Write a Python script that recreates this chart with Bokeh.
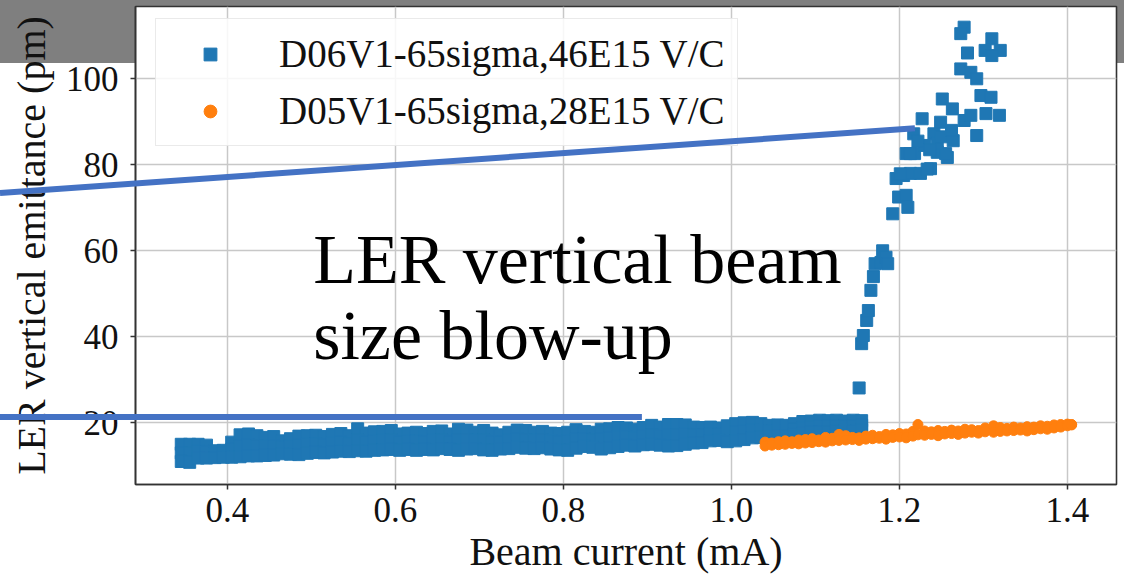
from bokeh.plotting import figure
from bokeh.models import (Range1d, FixedTicker, Label, Legend, LegendItem,
                          PrintfTickFormatter, GridBox, Div)
from bokeh.embed import file_html
from bokeh.resources import INLINE

# ---------------- data ----------------
x_ticks = [0.4, 0.6, 0.8, 1.0, 1.2, 1.4]
y_ticks = [20, 40, 60, 80, 100]

series_labels = ["D06V1-65sigma,46E15 V/C", "D05V1-65sigma,28E15 V/C"]

# D06V1: steady band (three points per current step: upper, middle, lower)
band_x = [0.345, 0.355, 0.365, 0.375, 0.385, 0.395, 0.405, 0.415, 0.425, 0.435,
          0.445, 0.455, 0.465, 0.475, 0.485, 0.495, 0.505, 0.515, 0.525, 0.535,
          0.545, 0.555, 0.565, 0.575, 0.585, 0.595, 0.605, 0.615, 0.625, 0.635,
          0.645, 0.655, 0.665, 0.675, 0.685, 0.695, 0.705, 0.715, 0.725, 0.735,
          0.745, 0.755, 0.765, 0.775, 0.785, 0.795, 0.805, 0.815, 0.825, 0.835,
          0.845, 0.855, 0.865, 0.875, 0.885, 0.895, 0.905, 0.915, 0.925, 0.935,
          0.945, 0.955, 0.965, 0.975, 0.985, 0.995, 1.005, 1.015, 1.025, 1.035,
          1.045, 1.055, 1.065, 1.075, 1.085, 1.095, 1.105, 1.115, 1.125, 1.135,
          1.145, 1.155]
band_hi = [15.0, 15.0, 15.0, 14.8, 13.5, 13.6, 15.5, 17.2, 17.4, 17.0,
           16.6, 16.8, 15.8, 16.3, 16.9, 17.0, 17.1, 16.8, 17.3, 17.5,
           17.0, 18.6, 17.6, 17.9, 18.0, 18.2, 17.4, 17.6, 17.8, 17.5,
           18.0, 18.1, 17.4, 18.5, 18.3, 17.8, 18.2, 17.6, 17.2, 17.8,
           18.3, 18.2, 17.8, 18.0, 17.6, 17.5, 17.8, 18.4, 18.0, 17.8,
           18.5, 18.6, 18.9, 18.8, 18.5, 18.9, 19.4, 19.0, 19.6, 19.6,
           19.5, 19.0, 18.9, 19.0, 18.8, 19.3, 19.8, 20.0, 20.1, 19.8,
           19.4, 19.5, 19.4, 19.8, 20.3, 20.4, 20.6, 20.5, 20.6, 20.4,
           20.6, 20.5]
band_mid = [13.0, 12.9, 13.4, 13.2, 12.8, 12.9, 13.8, 14.6, 14.9, 14.7,
            14.5, 14.6, 14.3, 14.5, 14.8, 15.0, 15.1, 14.9, 15.2, 15.5,
            15.1, 16.0, 15.5, 15.7, 15.9, 16.0, 15.5, 15.7, 15.7, 15.6,
            15.9, 16.0, 15.6, 16.1, 16.1, 15.9, 16.0, 15.6, 15.5, 15.9,
            16.3, 16.1, 15.9, 16.1, 15.8, 15.6, 15.7, 16.2, 16.3, 16.0,
            16.2, 16.4, 16.7, 16.8, 16.5, 16.9, 17.2, 16.9, 17.1, 17.2,
            17.3, 17.2, 17.1, 17.4, 17.3, 17.5, 17.8, 18.0, 18.3, 18.2,
            18.1, 18.2, 18.2, 18.5, 18.9, 19.1, 19.2, 19.2, 19.3, 19.3,
            19.3, 19.4]
band_lo = [11.0, 10.8, 11.8, 11.8, 11.9, 12.0, 12.0, 12.1, 12.3, 12.3,
           12.4, 12.5, 12.8, 12.7, 12.6, 12.9, 13.1, 13.0, 13.2, 13.4,
           13.3, 13.5, 13.4, 13.6, 13.7, 13.8, 13.6, 13.8, 13.6, 13.8,
           13.7, 14.0, 13.8, 13.6, 13.9, 14.0, 13.7, 13.6, 13.9, 14.0,
           14.3, 14.1, 14.0, 14.2, 13.9, 13.7, 13.6, 14.1, 14.5, 14.3,
           13.9, 14.2, 14.5, 14.8, 14.6, 14.9, 15.0, 14.8, 14.6, 14.7,
           15.0, 15.3, 15.4, 15.8, 15.9, 15.6, 15.8, 16.1, 16.5, 16.6,
           16.8, 16.9, 17.0, 17.3, 17.6, 17.8, 17.8, 17.9, 18.0, 18.2,
           18.0, 18.3]

# D06V1: blow-up region
blow_x = [1.152, 1.155, 1.157, 1.161, 1.163, 1.166, 1.169, 1.171, 1.178, 1.180,
          1.184, 1.186, 1.192, 1.199, 1.208, 1.210, 1.196, 1.205, 1.213, 1.225,
          1.237, 1.208, 1.218, 1.245, 1.257, 1.277, 1.273, 1.281, 1.310, 1.320,
          1.302, 1.310, 1.273, 1.285, 1.292, 1.251, 1.263, 1.277, 1.285, 1.297,
          1.309, 1.303, 1.319, 1.227, 1.249, 1.217, 1.241, 1.264, 1.292, 1.255,
          1.213, 1.201, 1.233, 1.230, 1.245, 1.222, 1.236, 1.250, 1.262]
blow_y = [28.1, 38.4, 40.3, 43.8, 46.1, 50.8, 54.0, 57.0, 57.3, 60.0,
          58.5, 57.0, 68.6, 72.5, 72.9, 70.1, 76.8, 77.5, 78.0, 78.0,
          79.1, 82.6, 82.6, 82.9, 81.7, 112.0, 110.5, 106.0, 109.3, 106.6,
          106.6, 105.4, 102.3, 101.5, 100.0, 95.3, 93.0, 90.3, 91.5, 96.1,
          95.7, 91.9, 91.5, 90.7, 89.9, 87.2, 87.2, 85.6, 86.8, 82.6,
          82.6, 77.9, 79.0, 84.5, 85.0, 85.5, 83.5, 86.5, 88.0]

# D05V1 (two points per current step: upper, lower)
d05_x = [1.040, 1.048, 1.056, 1.064, 1.072, 1.080, 1.088, 1.096, 1.104, 1.112,
         1.120, 1.128, 1.136, 1.144, 1.152, 1.160, 1.168, 1.176, 1.184, 1.192,
         1.200, 1.208, 1.216, 1.222, 1.230, 1.238, 1.246, 1.254, 1.262, 1.270,
         1.278, 1.286, 1.294, 1.302, 1.312, 1.320, 1.328, 1.336, 1.344, 1.352,
         1.360, 1.368, 1.376, 1.384, 1.392, 1.400, 1.405]
d05_hi = [15.5, 15.3, 15.6, 15.8, 15.6, 16.0, 16.1, 16.3, 16.0, 16.6,
          16.4, 17.3, 17.0, 16.6, 16.5, 16.9, 17.1, 16.8, 17.3, 17.2,
          17.5, 17.4, 18.0, 19.6, 18.1, 17.9, 18.2, 18.0, 18.3, 18.1,
          18.5, 18.4, 18.2, 18.8, 19.3, 18.9, 18.7, 19.0, 18.8, 19.1,
          19.0, 19.3, 19.2, 19.5, 19.6, 19.7, 19.6]
d05_lo = [14.6, 14.8, 14.9, 15.0, 15.2, 15.1, 15.3, 15.4, 15.6, 15.5,
          15.8, 15.9, 16.0, 16.1, 15.9, 16.2, 16.3, 16.4, 16.2, 16.6,
          16.7, 16.5, 16.9, 17.2, 17.1, 17.3, 17.0, 17.4, 17.5, 17.3,
          17.6, 17.8, 17.6, 17.9, 17.8, 18.0, 18.1, 18.2, 18.3, 18.1,
          18.4, 18.6, 18.5, 18.8, 19.0, 19.3, 19.5]

# annotation (hand-drawn slide lines and text), in data coordinates
callout_x = [[0.1298, 1.219], [0.1298, 0.894]]
callout_y = [[73.3, 88.4], [21.2, 21.2]]
callout_text = ["LER vertical beam", "size blow-up"]
# ---------------------------------------------------------------

blue_x = band_x + band_x + band_x + blow_x
blue_y = band_hi + band_mid + band_lo + blow_y
orange_x = d05_x + d05_x
orange_y = d05_hi + d05_lo

BLUE = "#1f77b4"
ORANGE = "#ff7f0e"
SERIF = "Liberation Serif"
W, H = 1124, 578
BL, BR, BT, BB = 135, 8, 6, 94          # plot frame borders (px)
X0, X1, Y0, Y1 = 0.2905, 1.4584, 5.65, 116.81

p = figure(width=W, height=H, output_backend="svg", toolbar_location=None,
           x_range=Range1d(X0, X1), y_range=Range1d(Y0, Y1),
           min_border_left=BL, min_border_right=BR, min_border_top=BT,
           min_border_bottom=BB)
p.border_fill_color = None
p.background_fill_color = "white"
p.styles = {"background": "linear-gradient(to bottom, #7f7f7f 0px, #7f7f7f 63px, #ffffff 63px, #ffffff 100%)"}
p.outline_line_color = "#333333"
p.outline_line_width = 1.6

p.xaxis.ticker = FixedTicker(ticks=x_ticks)
p.xaxis.formatter = PrintfTickFormatter(format="%.1f")
p.yaxis.ticker = FixedTicker(ticks=y_ticks)

for ax in (p.xaxis[0], p.yaxis[0]):
    ax.axis_line_color = "#333333"
    ax.axis_line_width = 1.6
    ax.major_tick_line_color = "#333333"
    ax.major_tick_line_width = 1.5
    ax.major_tick_in = 0
    ax.major_tick_out = 5
    ax.minor_tick_line_color = None
    ax.major_label_text_font = SERIF
    ax.major_label_text_font_size = "35px"
    ax.major_label_text_color = "#111111"
    ax.axis_label_text_font = SERIF
    ax.axis_label_text_font_size = "40px"
    ax.axis_label_text_font_style = "normal"
    ax.axis_label_text_color = "#111111"

p.xaxis.axis_label = "Beam current (mA)"
p.yaxis.axis_label = "LER vertical emittance (pm)"
p.xaxis.major_label_standoff = 8
p.xaxis.axis_label_standoff = 4
p.yaxis.major_label_standoff = 12
p.yaxis.axis_label_standoff = 9

p.grid.grid_line_color = "#c8c8c8"
p.grid.grid_line_width = 1.5

r1 = p.scatter(blue_x, blue_y, marker="square", size=12,
               fill_color=BLUE, line_color=BLUE)
r2 = p.scatter(orange_x, orange_y, marker="circle", size=10,
               fill_color=ORANGE, line_color=ORANGE)

legend = Legend(items=[LegendItem(label=series_labels[0], renderers=[r1]),
                       LegendItem(label=series_labels[1], renderers=[r2])],
                location=(20, 338), margin=0, padding=12, spacing=12,
                glyph_width=84, glyph_height=32, label_height=44,
                label_standoff=27,
                label_text_font=SERIF, label_text_font_size="39px",
                label_text_color="#111111",
                border_line_color="#d6d6d6", border_line_width=1.5,
                background_fill_color="white", background_fill_alpha=0.85)
p.add_layout(legend)

p.add_layout(Label(x=0.502, y=58.0, text=callout_text[0], text_font=SERIF,
                   text_font_size="70px", text_color="black",
                   text_baseline="alphabetic"))
p.add_layout(Label(x=0.502, y=40.4, text=callout_text[1], text_font=SERIF,
                   text_font_size="70px", text_color="black",
                   text_baseline="alphabetic"))

# slide call-out lines: they run past the plot frame, so they are drawn on a
# transparent page-sized layer that uses the same data->pixel mapping as p
px_per_x = (W - BL - BR) / (X1 - X0)
px_per_y = (H - BT - BB) / (Y1 - Y0)


def to_px_x(v):
    return BL + (v - X0) * px_per_x


def to_px_y(v):
    return BT + (Y1 - v) * px_per_y


segs = "".join(
    '<line x1="%.1f" y1="%.1f" x2="%.1f" y2="%.1f" stroke="#4472C4" '
    'stroke-width="6" />' % (to_px_x(xs[0]), to_px_y(ys[0]),
                             to_px_x(xs[1]), to_px_y(ys[1]))
    for xs, ys in zip(callout_x, callout_y))
overlay = Div(text='<svg xmlns="http://www.w3.org/2000/svg" width="%d" height="%d" '
                   'style="display:block">%s</svg>' % (W, H, segs),
              width=W, height=H, margin=0,
              styles={"pointer-events": "none"})

root = GridBox(children=[(p, 0, 0), (overlay, 0, 0)])

open("out.html", "w").write(file_html(root, INLINE))
